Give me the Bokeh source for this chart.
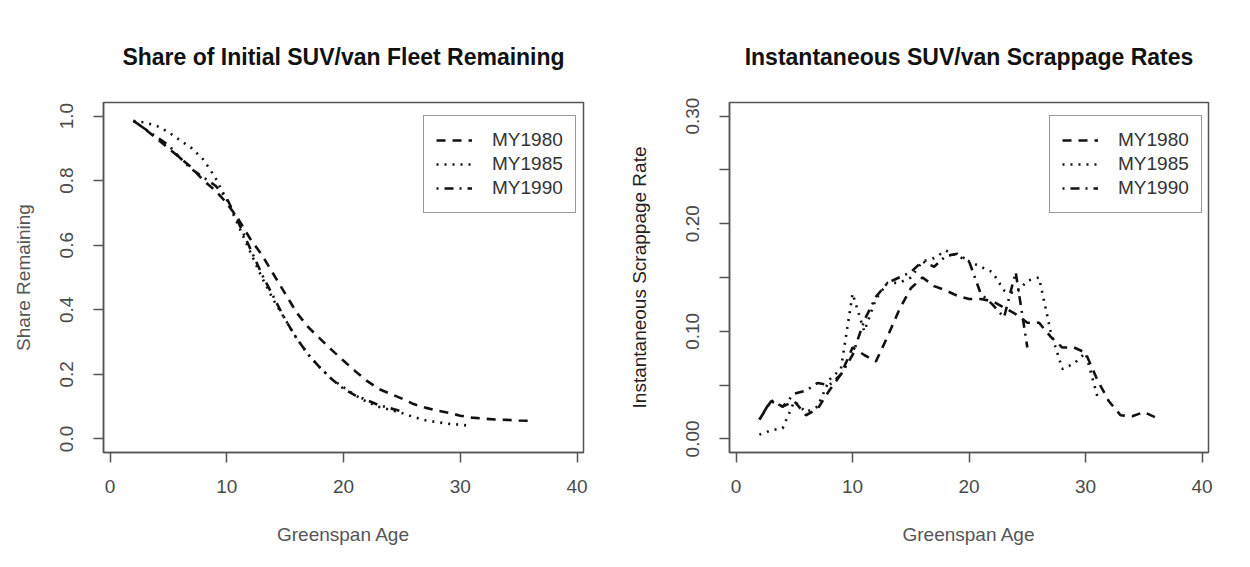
from bokeh.plotting import figure
from bokeh.layouts import row
from bokeh.models import FixedTicker, PrintfTickFormatter, Range1d, Legend, LegendItem
from bokeh.embed import file_html
from bokeh.resources import INLINE

# ---------------- data ----------------
ages_1980 = list(range(2, 37))
ages_1985 = list(range(2, 32))
ages_1990 = list(range(2, 26))

share_1980 = [0.985, 0.96, 0.93, 0.90, 0.87, 0.84, 0.80, 0.77, 0.73, 0.68, 0.62, 0.57,
              0.51, 0.45, 0.39, 0.345, 0.31, 0.275, 0.242, 0.21, 0.18, 0.155, 0.14,
              0.125, 0.108, 0.097, 0.088, 0.081, 0.072, 0.066, 0.063, 0.06, 0.059,
              0.057, 0.056]
share_1985 = [0.985, 0.98, 0.97, 0.95, 0.925, 0.90, 0.865, 0.81, 0.74, 0.66, 0.58,
              0.50, 0.43, 0.37, 0.31, 0.26, 0.22, 0.185, 0.16, 0.135, 0.115, 0.10,
              0.09, 0.08, 0.068, 0.058, 0.052, 0.047, 0.044, 0.04]
share_1990 = [0.985, 0.96, 0.935, 0.91, 0.87, 0.835, 0.81, 0.785, 0.745, 0.67, 0.59,
              0.51, 0.44, 0.37, 0.31, 0.26, 0.22, 0.185, 0.155, 0.135, 0.12, 0.105,
              0.095, 0.085]

rate_1980 = [0.018, 0.035, 0.030, 0.035, 0.022, 0.028, 0.045, 0.060, 0.085, 0.078,
             0.072, 0.095, 0.120, 0.140, 0.150, 0.142, 0.138, 0.133, 0.130, 0.130,
             0.128, 0.122, 0.116, 0.108, 0.108, 0.095, 0.085, 0.085, 0.080, 0.055,
             0.035, 0.022, 0.021, 0.025, 0.020]
rate_1985 = [0.004, 0.008, 0.010, 0.035, 0.025, 0.030, 0.055, 0.065, 0.135, 0.100,
             0.130, 0.145, 0.145, 0.150, 0.165, 0.168, 0.175, 0.170, 0.165, 0.160,
             0.155, 0.138, 0.135, 0.147, 0.150, 0.100, 0.065, 0.070, 0.080, 0.040]
rate_1990 = [0.018, 0.036, 0.030, 0.042, 0.045, 0.052, 0.050, 0.060, 0.078, 0.110,
             0.132, 0.145, 0.150, 0.155, 0.165, 0.160, 0.170, 0.172, 0.165, 0.135,
             0.125, 0.113, 0.155, 0.085]

labels = ["MY1980", "MY1985", "MY1990"]
dashes = ["9 7", "2 6", "2 6 9 6"]

FONT = "Liberation Sans"
AX = "#555555"


def make_panel(title, ylabel, ylabel_color, series, yr, yticks, yminor, yfmt,
               ylabel_standoff):
    p = figure(width=625, height=567, output_backend="svg", toolbar_location=None,
               x_range=Range1d(-0.565, 40.55), y_range=Range1d(*yr),
               min_border_left=103, min_border_right=42,
               min_border_top=102, min_border_bottom=115)
    p.background_fill_color = "white"
    p.border_fill_color = "white"
    p.outline_line_color = AX
    p.outline_line_width = 1.5
    p.grid.visible = False

    p.title.text = title
    p.title.align = "center"
    p.title.text_font = FONT
    p.title.text_font_size = "23px"
    p.title.text_font_style = "bold"
    p.title.text_color = "#111111"
    p.title.standoff = 66

    for ax in (p.xaxis[0], p.yaxis[0]):
        ax.axis_line_color = AX
        ax.axis_line_width = 1.5
        ax.major_tick_line_color = AX
        ax.major_tick_line_width = 1.5
        ax.minor_tick_line_color = AX
        ax.minor_tick_line_width = 1.5
        ax.major_tick_out = 10
        ax.major_tick_in = 0
        ax.minor_tick_out = 10
        ax.minor_tick_in = 0
        ax.major_label_text_font = FONT
        ax.major_label_text_font_size = "19px"
        ax.major_label_text_color = "#4a4a4a"
        ax.axis_label_text_font = FONT
        ax.axis_label_text_font_size = "19px"
        ax.axis_label_text_font_style = "normal"

    p.xaxis.ticker = FixedTicker(ticks=[0, 10, 20, 30, 40])
    p.xaxis.major_label_standoff = 17
    p.xaxis.axis_label = "Greenspan Age"
    p.xaxis.axis_label_text_color = "#555555"
    p.xaxis.axis_label_standoff = 28

    p.yaxis.ticker = FixedTicker(ticks=yticks, minor_ticks=yminor)
    p.yaxis.formatter = PrintfTickFormatter(format=yfmt)
    p.yaxis.major_label_orientation = "vertical"
    p.yaxis.major_label_standoff = 20
    p.yaxis.axis_label = ylabel
    p.yaxis.axis_label_text_color = ylabel_color
    p.yaxis.axis_label_standoff = ylabel_standoff

    items = []
    for (xs, ys), lab, dash in zip(series, labels, dashes):
        r = p.line(xs, ys, line_color="#111111", line_width=2.6, line_dash=dash)
        items.append(LegendItem(label=lab, renderers=[r]))

    leg = Legend(items=items, location=(320, 239))
    leg.border_line_color = "#333333"
    leg.border_line_width = 1.5
    leg.background_fill_color = "white"
    leg.padding = 12
    leg.spacing = 0
    leg.margin = 0
    leg.label_height = 24
    leg.glyph_height = 24
    leg.glyph_width = 36
    leg.label_standoff = 20
    leg.label_text_font = FONT
    leg.label_text_font_size = "19px"
    leg.label_text_color = "#333333"
    p.add_layout(leg, "center")
    return p


p1 = make_panel("Share of Initial SUV/van Fleet Remaining", "Share Remaining", "#555555",
                [(ages_1980, share_1980), (ages_1985, share_1985), (ages_1990, share_1990)],
                (-0.042, 1.042), [0, 0.2, 0.4, 0.6, 0.8, 1.0], [], "%.1f", 24)
p2 = make_panel("Instantaneous SUV/van Scrappage Rates", "Instantaneous Scrappage Rate", "#222222",
                [(ages_1980, rate_1980), (ages_1985, rate_1985), (ages_1990, rate_1990)],
                (-0.0126, 0.3126), [0, 0.1, 0.2, 0.3], [0.05, 0.15, 0.25], "%.2f", 34)

layout = row(p1, p2)
open("out.html", "w").write(file_html(layout, INLINE))
